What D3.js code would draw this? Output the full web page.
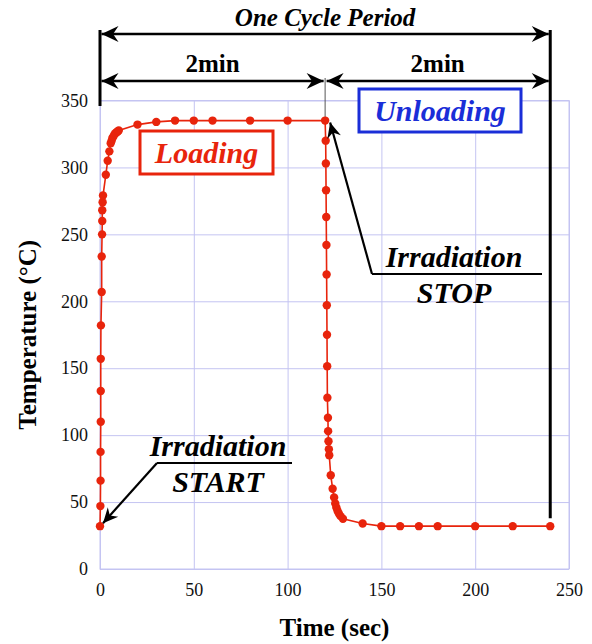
<!DOCTYPE html>
<html>
<head>
<meta charset="utf-8">
<script src="https://cdn.jsdelivr.net/npm/d3@7"></script>
<style>
  body { margin: 0; background: #fff; }
</style>
</head>
<body>
<div id="chart-area"></div>
<script>
// heating phase (irradiation on), sec / degC
const heatTime = [0, 0.2, 0.3, 0.3, 0.4, 0.4, 0.4, 0.5, 0.9, 0.9, 1.1, 1.2, 1.2, 1.4, 1.6,
  3.1, 4.1, 5.0, 5.7, 6.2, 6.6, 7.1, 7.6, 8.2, 8.9, 9.5, 10, 20, 30, 40, 50, 60, 80, 100]
const heatTemp = [32, 47, 66, 87.5, 110, 133, 157, 182, 207, 233.5, 250, 260, 268, 274, 279,
  294.5, 305, 312, 318, 320, 322, 323, 324.5, 325.5, 326.3, 327, 327.6, 332, 334, 335, 335, 335, 335, 335]
// cooling phase (irradiation off)
const coolTime = [120, 120.3, 120.4, 120.5, 120.6, 120.7, 120.8, 120.9, 121.0, 121.1, 121.2, 121.5,
  121.6, 121.8, 122.0, 122.2, 123.0, 124.0, 124.8, 125.4, 126.0, 126.6, 127.3, 128.2, 129.5,
  140, 150, 160, 170, 180, 200, 220, 240]
const coolTemp = [335, 320, 303, 283, 263, 242, 220, 197, 175, 151.5, 128, 113,
  103, 95.5, 89.5, 85, 70, 60, 53.5, 49, 46, 43.5, 41.5, 39.5, 37.5,
  34, 32, 32, 32, 32, 32, 32, 32]

const xTicks = [0, 50, 100, 150, 200, 250]
const yTicks = [0, 50, 100, 150, 200, 250, 300, 350]

const SVG_WIDTH = 592
const SVG_HEIGHT = 644
const PLOT = { left: 100, right: 569, top: 100.5, bottom: 569 }
const SERIF = "'Liberation Serif', 'DejaVu Serif', serif"

const RED = "#e8240c"
const BLUE = "#1a2ed8"
const GRID = "#c4c4f2"

const data = heatTime.map((t, i) => ({ t: t, v: heatTemp[i] }))
  .concat(coolTime.map((t, i) => ({ t: t, v: coolTemp[i] })))

const svg = d3.select("#chart-area").append("svg")
  .attr("width", SVG_WIDTH)
  .attr("height", SVG_HEIGHT)
  .attr("font-family", SERIF)

const x = d3.scaleLinear()
  .domain([0, 250])
  .range([PLOT.left, PLOT.right])

const y = d3.scaleLinear()
  .domain([0, 350])
  .range([PLOT.bottom, PLOT.top])

// arrowheads
const defs = svg.append("defs")
function arrowMarker(id, len, half) {
  defs.append("marker")
    .attr("id", id)
    .attr("viewBox", `${-len - 1} ${-half - 1} ${len + 2} ${half * 2 + 2}`)
    .attr("refX", 0)
    .attr("refY", 0)
    .attr("markerUnits", "userSpaceOnUse")
    .attr("markerWidth", len + 2)
    .attr("markerHeight", half * 2 + 2)
    .attr("orient", "auto-start-reverse")
    .append("path")
    .attr("d", `M0,0L${-len},${-half}L${-len * 0.68},0L${-len},${half}Z`)
    .attr("fill", "#000")
}
arrowMarker("head", 17, 8)
arrowMarker("headSmall", 15, 7)

// grid + tick labels
const xAxisCall = d3.axisBottom(x)
  .tickValues(xTicks)
  .tickSize(-(PLOT.bottom - PLOT.top))
  .tickPadding(14)

svg.append("g")
  .attr("class", "x axis")
  .attr("transform", `translate(0, ${PLOT.bottom})`)
  .call(xAxisCall)

const yAxisCall = d3.axisLeft(y)
  .tickValues(yTicks)
  .tickSize(-(PLOT.right - PLOT.left))
  .tickPadding(12)

svg.append("g")
  .attr("class", "y axis")
  .attr("transform", `translate(${PLOT.left}, 0)`)
  .call(yAxisCall)

svg.selectAll(".axis").attr("font-family", null)
svg.selectAll(".axis .domain").remove()
svg.selectAll(".axis line").attr("stroke", GRID).attr("stroke-width", 1)
svg.selectAll(".axis text")
  .attr("font-size", "18px")
  .attr("fill", "#111")

svg.append("rect")
  .attr("x", PLOT.left)
  .attr("y", PLOT.top)
  .attr("width", PLOT.right - PLOT.left)
  .attr("height", PLOT.bottom - PLOT.top)
  .attr("fill", "none")
  .attr("stroke", GRID)

// axis titles
svg.append("text")
  .attr("x", (PLOT.left + PLOT.right) / 2)
  .attr("y", 636)
  .attr("text-anchor", "middle")
  .attr("font-size", "25px")
  .attr("font-weight", "bold")
  .text("Time (sec)")

svg.append("text")
  .attr("transform", `translate(36, ${(PLOT.top + PLOT.bottom) / 2}) rotate(-90)`)
  .attr("text-anchor", "middle")
  .attr("font-size", "25px")
  .attr("font-weight", "bold")
  .text("Temperature (°C)")

// period dimension lines
const dims = svg.append("g").attr("class", "dims")
dims.append("line")
  .attr("x1", x(0)).attr("x2", x(0))
  .attr("y1", 30).attr("y2", 106)
  .attr("stroke", "#000").attr("stroke-width", 3)
dims.append("line")
  .attr("x1", x(240)).attr("x2", x(240))
  .attr("y1", 30).attr("y2", y(32) - 8)
  .attr("stroke", "#000").attr("stroke-width", 3)
dims.append("line")
  .attr("x1", x(120)).attr("x2", x(120))
  .attr("y1", 78).attr("y2", y(335))
  .attr("stroke", "#555").attr("stroke-width", 1)

function dimArrow(t0, t1, yPos) {
  dims.append("line")
    .attr("x1", x(t0) + 1.5).attr("x2", x(t1) - 1.5)
    .attr("y1", yPos).attr("y2", yPos)
    .attr("stroke", "#000").attr("stroke-width", 2.5)
    .attr("marker-start", "url(#head)")
    .attr("marker-end", "url(#head)")
}
dimArrow(0, 240, 34)
dimArrow(0, 120, 81)
dimArrow(120, 240, 81)

dims.append("text")
  .attr("x", x(120)).attr("y", 26)
  .attr("text-anchor", "middle")
  .attr("font-size", "25px").attr("font-weight", "bold").attr("font-style", "italic")
  .text("One Cycle Period")
dims.append("text")
  .attr("x", x(60)).attr("y", 72)
  .attr("text-anchor", "middle")
  .attr("font-size", "25px").attr("font-weight", "bold")
  .text("2min")
dims.append("text")
  .attr("x", x(180)).attr("y", 72)
  .attr("text-anchor", "middle")
  .attr("font-size", "25px").attr("font-weight", "bold")
  .text("2min")

// data line + dots
const line = d3.line()
  .x(d => x(d.t))
  .y(d => y(d.v))

svg.append("path")
  .datum(data)
  .attr("fill", "none")
  .attr("stroke", RED)
  .attr("stroke-width", 1.6)
  .attr("d", line)

svg.selectAll("circle.pt")
  .data(data)
  .enter().append("circle")
  .attr("class", "pt")
  .attr("cx", d => x(d.t))
  .attr("cy", d => y(d.v))
  .attr("r", 4.2)
  .attr("fill", RED)

// phase boxes
function phaseBox(label, color, x0, y0, w, h) {
  const g = svg.append("g")
  g.append("rect")
    .attr("x", x0).attr("y", y0)
    .attr("width", w).attr("height", h)
    .attr("fill", "#fff")
    .attr("stroke", color).attr("stroke-width", 3)
  g.append("text")
    .attr("x", x0 + w / 2).attr("y", y0 + h / 2 + 10)
    .attr("text-anchor", "middle")
    .attr("font-size", "30px").attr("font-weight", "bold").attr("font-style", "italic")
    .attr("fill", color)
    .text(label)
}
phaseBox("Loading", RED, 140, 131, 133, 43)
phaseBox("Unloading", BLUE, 359, 89, 162, 43)

// irradiation call-outs
function callout(l1, l2, textX, baseY, ulX0, ulX1, tipT, tipV, tipDx, tipDy) {
  const g = svg.append("g")
  g.append("text")
    .attr("x", textX).attr("y", baseY)
    .attr("text-anchor", "middle")
    .attr("font-size", "30px").attr("font-weight", "bold").attr("font-style", "italic")
    .text(l1)
  g.append("text")
    .attr("x", textX).attr("y", baseY + 36)
    .attr("text-anchor", "middle")
    .attr("font-size", "30px").attr("font-weight", "bold").attr("font-style", "italic")
    .text(l2)
  g.append("line")
    .attr("x1", ulX1).attr("x2", ulX0)
    .attr("y1", baseY + 7).attr("y2", baseY + 7)
    .attr("stroke", "#000").attr("stroke-width", 2.2)
  g.append("line")
    .attr("x1", ulX0).attr("y1", baseY + 7)
    .attr("x2", x(tipT) + tipDx).attr("y2", y(tipV) + tipDy)
    .attr("stroke", "#000").attr("stroke-width", 2.2)
    .attr("marker-end", "url(#headSmall)")
}
callout("Irradiation", "START", 218, 456, 157, 292, 0, 32, 3, -3)
callout("Irradiation", "STOP", 454, 267, 372, 542, 120, 335, 5, 2)
</script>
</body>
</html>
